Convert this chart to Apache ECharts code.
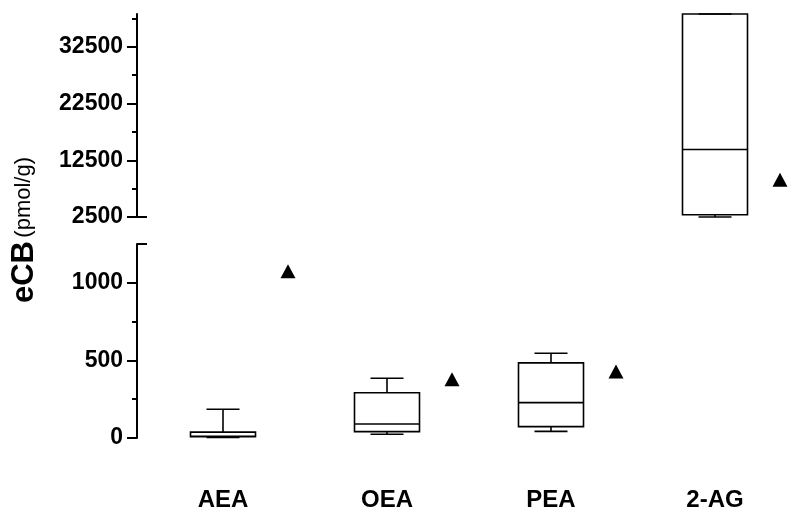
<!DOCTYPE html>
<html>
<head>
<meta charset="utf-8">
<script src="https://cdn.jsdelivr.net/npm/echarts@6/dist/echarts.min.js"></script>
<style>
  html, body { margin: 0; padding: 0; background: #fff; }
  #chart { width: 800px; height: 521px; }
</style>
</head>
<body>
<div id="chart"></div>
<script>
// data
const categories = ['AEA', 'OEA', 'PEA', '2-AG']
const boxMin = [3, 24, 43, 2500]
const boxQ1 = [8, 41, 73, 2906]
const boxMedian = [11, 90, 228, 14400]
const boxQ3 = [38, 292, 484, 38300]
const boxMax = [185, 385, 546, 38300]
const triangleValues = [1074, 379, 428, 9080]

// broken y axis: two panels
const lowerMin = 0
const lowerMax = 1250
const upperMin = 2500
const upperMax = 38300
const lowerTicks = [0, 500, 1000]
const lowerMinorTicks = [250, 750]
const upperTicks = [2500, 12500, 22500, 32500]
const upperMinorTicks = [7500, 17500, 27500, 37500]

const font = 'Liberation Sans, Arial, sans-serif'
const black = '#000'

// split categories between lower and upper panel
const rows = categories.map((c, i) => [i, boxMin[i], boxQ1[i], boxMedian[i], boxQ3[i], boxMax[i]])
const lowerRows = rows.filter(r => r[5] <= lowerMax)
const upperRows = rows.filter(r => r[5] > lowerMax)
const lowerTri = categories.map((c, i) => [i, triangleValues[i]]).filter(p => p[1] <= lowerMax)
const upperTri = categories.map((c, i) => [i, triangleValues[i]]).filter(p => p[1] > lowerMax)

const renderBox = function (params, api) {
    const x = api.value(0)
    const pMin = api.coord([x, api.value(1)])
    const pQ1 = api.coord([x, api.value(2)])
    const pMed = api.coord([x, api.value(3)])
    const pQ3 = api.coord([x, api.value(4)])
    const pMax = api.coord([x, api.value(5)])
    const cx = pMed[0]
    const half = 32.5
    const cap = 16.5
    const lineStyle = { stroke: black, lineWidth: 1.6 }
    return {
        type: 'group',
        children: [
            { type: 'line', shape: { x1: cx, y1: pMin[1], x2: cx, y2: pMax[1] }, style: lineStyle },
            {
                type: 'rect',
                shape: { x: cx - half, y: pQ3[1], width: half * 2, height: pQ1[1] - pQ3[1] },
                style: { fill: '#fff', stroke: black, lineWidth: 1.6 },
            },
            { type: 'line', shape: { x1: cx - half, y1: pMed[1], x2: cx + half, y2: pMed[1] }, style: lineStyle },
            { type: 'line', shape: { x1: cx - cap, y1: pMin[1], x2: cx + cap, y2: pMin[1] }, style: lineStyle },
            { type: 'line', shape: { x1: cx - cap, y1: pMax[1], x2: cx + cap, y2: pMax[1] }, style: lineStyle },
        ],
    }
}

const makeYAxes = (gridIndex, min, max, ticks, minor, breakValue) => [
    {
        type: 'value', gridIndex, min, max, position: 'left', offset: 4,
        axisLine: { show: true, lineStyle: { color: black, width: 2 } },
        axisTick: { show: true, length: 10, customValues: ticks, lineStyle: { color: black, width: 2 } },
        axisLabel: {
            show: true, customValues: ticks, margin: 14,
            formatter: v => String(v),
            color: black, fontFamily: font, fontWeight: 'bold', fontSize: 23,
        },
        splitLine: { show: false },
    },
    {
        type: 'value', gridIndex, min, max, position: 'left', offset: 4,
        axisLine: { show: false },
        axisTick: { show: true, length: 5, customValues: minor, lineStyle: { color: black, width: 2 } },
        axisLabel: { show: false },
        splitLine: { show: false },
    },
    {
        type: 'value', gridIndex, min, max, position: 'left', offset: 4,
        axisLine: { show: false },
        axisTick: { show: true, inside: true, length: 10, customValues: [breakValue], lineStyle: { color: black, width: 2 } },
        axisLabel: { show: false },
        splitLine: { show: false },
    },
]

const chart = echarts.init(document.getElementById('chart'))

const option = {
    animation: false,
    backgroundColor: '#fff',
    grid: [
        { left: 141, right: 3, top: 14, bottom: 304 },
        { left: 141, right: 3, top: 244, bottom: 83 },
    ],
    xAxis: [
        {
            type: 'category', gridIndex: 0, data: categories,
            axisLine: { show: false }, axisTick: { show: false }, axisLabel: { show: false },
        },
        {
            type: 'category', gridIndex: 1, data: categories,
            axisLine: { show: false }, axisTick: { show: false },
            axisLabel: { margin: 50, color: black, fontFamily: font, fontWeight: 'bold', fontSize: 24 },
        },
    ],
    yAxis: [
        ...makeYAxes(0, upperMin, upperMax, upperTicks, upperMinorTicks, upperMin),
        ...makeYAxes(1, lowerMin, lowerMax, lowerTicks, lowerMinorTicks, lowerMax),
    ],
    graphic: [
        {
            type: 'text',
            x: 24,
            y: 230,
            rotation: Math.PI / 2,
            style: {
                text: '{a|eCB} {b|(pmol/g)}',
                align: 'center',
                verticalAlign: 'middle',
                fill: black,
                rich: {
                    a: { fontFamily: font, fontWeight: 'bold', fontSize: 31, fill: black },
                    b: { fontFamily: font, fontSize: 22, fill: black },
                },
            },
        },
    ],
    series: [
        {
            type: 'custom', xAxisIndex: 0, yAxisIndex: 0,
            renderItem: renderBox, data: upperRows, encode: { x: 0, y: [1, 2, 3, 4, 5] },
        },
        {
            type: 'custom', xAxisIndex: 1, yAxisIndex: 3,
            renderItem: renderBox, data: lowerRows, encode: { x: 0, y: [1, 2, 3, 4, 5] },
        },
        {
            type: 'scatter', xAxisIndex: 0, yAxisIndex: 0, data: upperTri,
            symbol: 'triangle', symbolSize: [15, 14], symbolOffset: [65, 0],
            itemStyle: { color: black, opacity: 1 },
        },
        {
            type: 'scatter', xAxisIndex: 1, yAxisIndex: 3, data: lowerTri,
            symbol: 'triangle', symbolSize: [15, 14], symbolOffset: [65, 0],
            itemStyle: { color: black, opacity: 1 },
        },
    ],
}

chart.setOption(option)
</script>
</body>
</html>
